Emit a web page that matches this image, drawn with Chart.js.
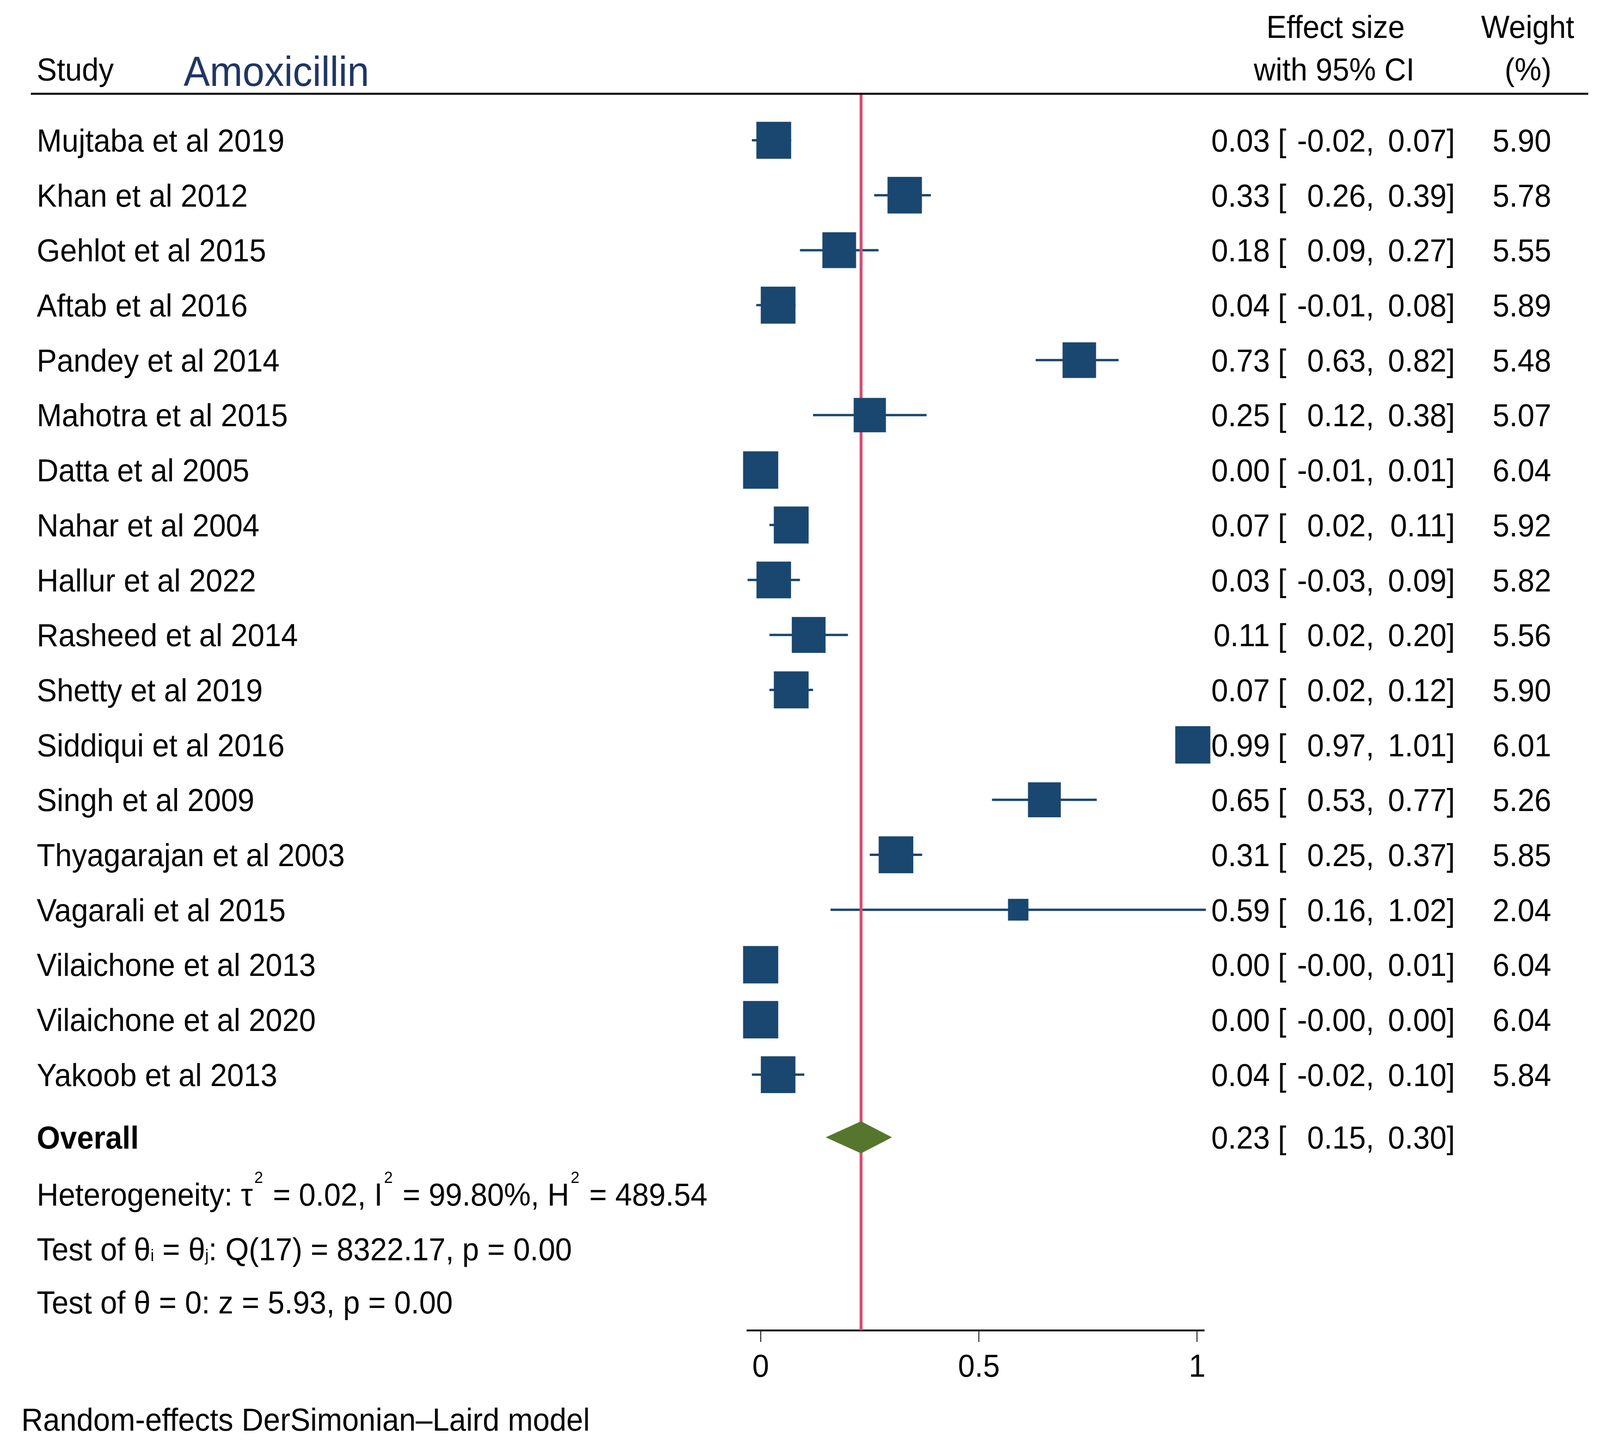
<!DOCTYPE html>
<html>
<head>
<meta charset="utf-8">
<script src="https://cdn.jsdelivr.net/npm/chart.js@4.4.1/dist/chart.umd.min.js"></script>
<style>
  html, body { margin: 0; padding: 0; background: #ffffff; overflow: hidden; }
  #wrap { width: 4357px; height: 3709px; transform-origin: 0 0; }
  canvas { display: block; }
</style>
</head>
<body>
<div id="wrap"><canvas id="c" width="4357" height="3709" style="width:4357px;height:3709px"></canvas></div>
<script>
// ---------------- data ----------------
const titleText = 'Amoxicillin';
const studies = [
  'Mujtaba et al 2019', 'Khan et al 2012', 'Gehlot et al 2015', 'Aftab et al 2016',
  'Pandey et al 2014', 'Mahotra et al 2015', 'Datta et al 2005', 'Nahar et al 2004',
  'Hallur et al 2022', 'Rasheed et al 2014', 'Shetty et al 2019', 'Siddiqui et al 2016',
  'Singh et al 2009', 'Thyagarajan et al 2003', 'Vagarali et al 2015', 'Vilaichone et al 2013',
  'Vilaichone et al 2020', 'Yakoob et al 2013'
];
const effectSize = [0.03, 0.33, 0.18, 0.04, 0.73, 0.25, 0.00, 0.07, 0.03, 0.11, 0.07, 0.99, 0.65, 0.31, 0.59, 0.00, 0.00, 0.04];
const ciLow      = [-0.02, 0.26, 0.09, -0.01, 0.63, 0.12, -0.01, 0.02, -0.03, 0.02, 0.02, 0.97, 0.53, 0.25, 0.16, -0, -0, -0.02];
const ciHigh     = [0.07, 0.39, 0.27, 0.08, 0.82, 0.38, 0.01, 0.11, 0.09, 0.20, 0.12, 1.01, 0.77, 0.37, 1.02, 0.01, 0.00, 0.10];
const weightPct  = [5.90, 5.78, 5.55, 5.89, 5.48, 5.07, 6.04, 5.92, 5.82, 5.56, 5.90, 6.01, 5.26, 5.85, 2.04, 6.04, 6.04, 5.84];
const overallES = 0.23;
const overallLow = 0.15;
const overallHigh = 0.30;
const xTicks = [0, 0.5, 1];
const xTickLabels = ['0', '0.5', '1'];
const footerText = 'Random-effects DerSimonian\u2013Laird model';

// ---------------- layout constants ----------------
const W = 4357, H = 3709;
const FONT = "'Liberation Sans', Arial, Helvetica, sans-serif";
const X_MIN = -0.03, X_MAX = 1.016;
const Y_MIN = 0.154, Y_MAX = 22.65;
const OVERALL_ROW = 19.14;
const STAT_ROWS = [20.175, 21.17, 22.14];
const NAVY = '#1a476f';
const RED = '#d44d70';
const GREEN = '#56762e';
const SQUARE_K = 39;       // square side (px) per sqrt(weight)
const DIAMOND_H = 0.288;   // half height of diamond in row units

// fit the 4357x3709 drawing into whatever viewport the browser gives
(function fitToViewport() {
  const sx = Math.min(1, (window.innerWidth || W) / W);
  const sy = Math.min(1, (window.innerHeight || H) / H);
  document.getElementById('wrap').style.transform = `scale(${sx}, ${sy})`;
})();

function fmt(v) {
  const neg = v < 0 || Object.is(v, -0);
  return (neg ? '-' : '') + Math.abs(v).toFixed(2);
}

// ---------------- datasets ----------------
const rowOf = i => i + 1;
const datasets = [];

studies.forEach((s, i) => {
  datasets.push({
    label: 'ci-' + i,
    data: [{ x: ciLow[i], y: rowOf(i) }, { x: ciHigh[i], y: rowOf(i) }],
    borderColor: NAVY,
    borderWidth: 6,
    pointRadius: 0,
    borderCapStyle: 'butt',
    fill: false,
    clip: false,
    order: 3
  });
});

datasets.push({
  label: 'overall-line',
  data: [{ x: overallES, y: Y_MIN }, { x: overallES, y: Y_MAX }],
  borderColor: RED,
  borderWidth: 8,
  pointRadius: 0,
  fill: false,
  clip: false,
  order: 2
});

datasets.push({
  label: 'overall-diamond',
  data: [
    { x: overallLow, y: OVERALL_ROW },
    { x: overallES, y: OVERALL_ROW - DIAMOND_H },
    { x: overallHigh, y: OVERALL_ROW },
    { x: overallES, y: OVERALL_ROW + DIAMOND_H },
    { x: overallLow, y: OVERALL_ROW }
  ],
  borderColor: GREEN,
  backgroundColor: GREEN,
  borderWidth: 1,
  pointRadius: 0,
  fill: 'shape',
  tension: 0,
  clip: false,
  order: 1
});

datasets.push({
  label: 'estimates',
  data: studies.map((s, i) => ({ x: effectSize[i], y: rowOf(i) })),
  showLine: false,
  pointStyle: 'rect',
  pointRadius: ctx => (SQUARE_K * Math.sqrt(weightPct[ctx.dataIndex])) / (2 * Math.SQRT1_2),
  pointHoverRadius: ctx => (SQUARE_K * Math.sqrt(weightPct[ctx.dataIndex])) / (2 * Math.SQRT1_2),
  pointBackgroundColor: NAVY,
  pointBorderWidth: 0,
  pointBorderColor: NAVY,
  clip: false,
  order: 0
});

// ---------------- text plugin ----------------
function drawRich(ctx, x, y, parts, size) {
  let cx = x;
  parts.forEach(([t, kind]) => {
    if (kind === 'sup') {
      ctx.font = `${Math.round(size * 0.52)}px ${FONT}`;
      ctx.fillText(t, cx + 4, y - size * 0.70);
      cx += 8;
    } else if (kind === 'sub') {
      ctx.font = `${Math.round(size * 0.52)}px ${FONT}`;
      ctx.fillText(t, cx, y + size * 0.03);
    } else {
      ctx.font = `${size}px ${FONT}`;
      ctx.fillText(t, cx, y);
    }
    cx += ctx.measureText(t).width;
  });
}

const forestText = {
  id: 'forestText',
  afterDraw(chart) {
    const ctx = chart.ctx;
    const ys = chart.scales.y;
    const S = 82;
    const off = 29;
    ctx.save();
    ctx.strokeStyle = '#000';
    ctx.lineWidth = 5;
    ctx.beginPath();
    ctx.moveTo(84, 240);
    ctx.lineTo(4325, 240);
    ctx.stroke();

    ctx.fillStyle = '#000';
    ctx.textBaseline = 'alphabetic';
    ctx.font = `${S}px ${FONT}`;
    ctx.textAlign = 'left';
    ctx.fillText('Study', 100, 206);
    ctx.textAlign = 'center';
    ctx.fillText('Effect size', 3637, 97);
    ctx.fillText('with 95% CI', 3633, 206);
    ctx.fillText('Weight', 4160, 97);
    ctx.fillText('(%)', 4161, 206);

    ctx.textAlign = 'left';
    ctx.fillStyle = '#1f3564';
    ctx.font = `107px ${FONT}`;
    ctx.fillText(titleText, 500, 220);

    ctx.fillStyle = '#000';
    const drawCI = (e, lo, hi, y) => {
      ctx.font = `${S}px ${FONT}`;
      ctx.textAlign = 'right';
      ctx.fillText(fmt(e), 3458, y);
      ctx.textAlign = 'left';
      ctx.fillText('[', 3480, y);
      ctx.textAlign = 'right';
      ctx.fillText(fmt(lo) + ',', 3742, y);
      ctx.fillText(fmt(hi) + ']', 3962, y);
    };

    studies.forEach((name, i) => {
      const y = ys.getPixelForValue(rowOf(i)) + off;
      ctx.font = `${S}px ${FONT}`;
      ctx.textAlign = 'left';
      ctx.fillText(name, 100, y);
      drawCI(effectSize[i], ciLow[i], ciHigh[i], y);
      ctx.textAlign = 'right';
      ctx.fillText(weightPct[i].toFixed(2), 4224, y);
    });

    const yo = ys.getPixelForValue(OVERALL_ROW) + off;
    ctx.font = `bold ${S}px ${FONT}`;
    ctx.textAlign = 'left';
    ctx.fillText('Overall', 100, yo);
    drawCI(overallES, overallLow, overallHigh, yo);

    ctx.textAlign = 'left';
    const y1 = ys.getPixelForValue(STAT_ROWS[0]) + off;
    drawRich(ctx, 100, y1, [
      ['Heterogeneity: \u03C4', 'n'], ['2', 'sup'], [' = 0.02, I', 'n'], ['2', 'sup'],
      [' = 99.80%, H', 'n'], ['2', 'sup'], [' = 489.54', 'n']
    ], S);
    const y2 = ys.getPixelForValue(STAT_ROWS[1]) + off;
    drawRich(ctx, 100, y2, [
      ['Test of \u03B8', 'n'], ['i', 'sub'], [' = \u03B8', 'n'], ['j', 'sub'],
      [': Q(17) = 8322.17, p = 0.00', 'n']
    ], S);
    const y3 = ys.getPixelForValue(STAT_ROWS[2]) + off;
    drawRich(ctx, 100, y3, [['Test of \u03B8 = 0: z = 5.93, p = 0.00', 'n']], S);

    ctx.font = `${S}px ${FONT}`;
    ctx.textAlign = 'left';
    ctx.fillText(footerText, 58, 3662);
    ctx.restore();
  }
};

// ---------------- chart ----------------
Chart.defaults.font.family = FONT;
new Chart(document.getElementById('c'), {
  type: 'line',
  data: { datasets },
  options: {
    responsive: false,
    devicePixelRatio: 1,
    animation: false,
    events: [],
    layout: { padding: { left: 2035.7, right: W - (2071.4 + X_MAX * 1188.6), top: 240, bottom: 0 } },
    plugins: { legend: { display: false }, tooltip: { enabled: false } },
    scales: {
      x: {
        type: 'linear',
        position: 'bottom',
        min: X_MIN,
        max: X_MAX,
        afterBuildTicks: scale => { scale.ticks = xTicks.map(v => ({ value: v })); },
        afterFit: scale => { scale.height = 304; },
        ticks: {
          callback: (v) => { const k = xTicks.indexOf(v); return k >= 0 ? xTickLabels[k] : ''; },
          font: { size: 82, family: FONT },
          color: '#000',
          padding: 17,
          maxRotation: 0,
          autoSkip: false
        },
        grid: { drawOnChartArea: false, drawTicks: true, tickLength: 30, tickWidth: 3, tickColor: '#333' },
        border: { display: true, color: '#222', width: 5 }
      },
      y: {
        type: 'linear',
        display: false,
        reverse: true,
        min: Y_MIN,
        max: Y_MAX
      }
    }
  },
  plugins: [forestText]
});
</script>
</body>
</html>
